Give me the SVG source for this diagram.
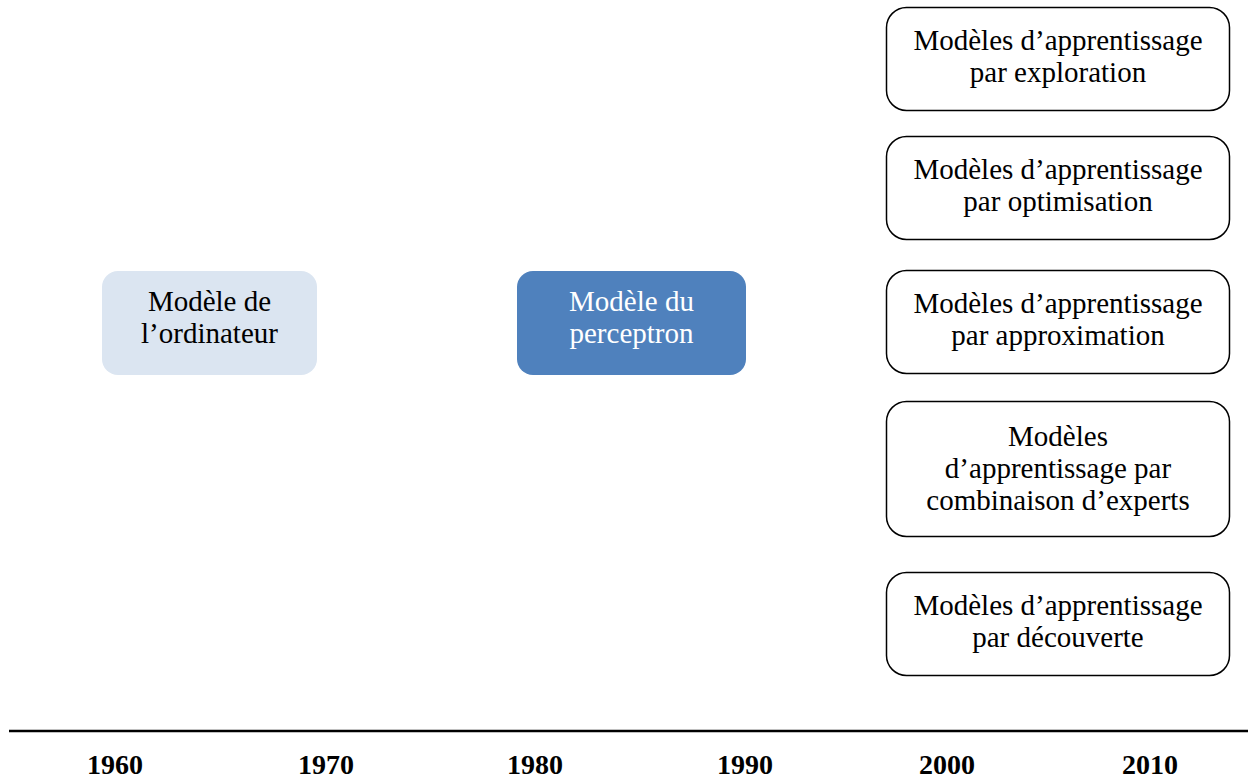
<svg xmlns="http://www.w3.org/2000/svg" width="1248" height="780" viewBox="0 0 1248 780">
<style>
text{font-family:"Liberation Serif","Times New Roman",serif;font-size:29px;text-anchor:middle;fill:#000}
.w{fill:#fff}
.yr{font-weight:bold;font-size:28px}
.box{fill:#fff;stroke:#000;stroke-width:1.5}
</style>
<rect width="1248" height="780" fill="#fff"/>
<g id="node-ordinateur">
<rect x="102" y="271" width="215" height="104" rx="16" fill="#DBE5F1"/>
<text x="209.5" y="311">Modèle de</text>
<text x="209.5" y="343">l’ordinateur</text>
</g>
<g id="node-perceptron">
<rect x="517" y="271" width="229" height="104" rx="16" fill="#4F81BD"/>
<text class="w" x="631.5" y="311">Modèle du</text>
<text class="w" x="631.5" y="343">perceptron</text>
</g>
<g id="node-exploration">
<rect class="box" x="886.5" y="7.5" width="343" height="103" rx="20"/>
<text x="1058" y="50">Modèles d’apprentissage</text>
<text x="1058" y="82">par exploration</text>
</g>
<g id="node-optimisation">
<rect class="box" x="886.5" y="136.5" width="343" height="103" rx="20"/>
<text x="1058" y="179">Modèles d’apprentissage</text>
<text x="1058" y="211">par optimisation</text>
</g>
<g id="node-approximation">
<rect class="box" x="886.5" y="270.5" width="343" height="103" rx="20"/>
<text x="1058" y="313">Modèles d’apprentissage</text>
<text x="1058" y="345">par approximation</text>
</g>
<g id="node-experts">
<rect class="box" x="886.5" y="401.5" width="343" height="135" rx="20"/>
<text x="1058" y="446">Modèles</text>
<text x="1058" y="478">d’apprentissage par</text>
<text x="1058" y="510">combinaison d’experts</text>
</g>
<g id="node-decouverte">
<rect class="box" x="886.5" y="572.5" width="343" height="103" rx="20"/>
<text x="1058" y="615">Modèles d’apprentissage</text>
<text x="1058" y="647">par découverte</text>
</g>
<g id="connectors">
<line x1="9" y1="731" x2="1248" y2="731" stroke="#000" stroke-width="2.5"/>
</g>
<g id="timeline-labels">
<text class="yr" x="115" y="774">1960</text>
<text class="yr" x="326" y="774">1970</text>
<text class="yr" x="535" y="774">1980</text>
<text class="yr" x="745" y="774">1990</text>
<text class="yr" x="947" y="774">2000</text>
<text class="yr" x="1150" y="774">2010</text>
</g>
</svg>
